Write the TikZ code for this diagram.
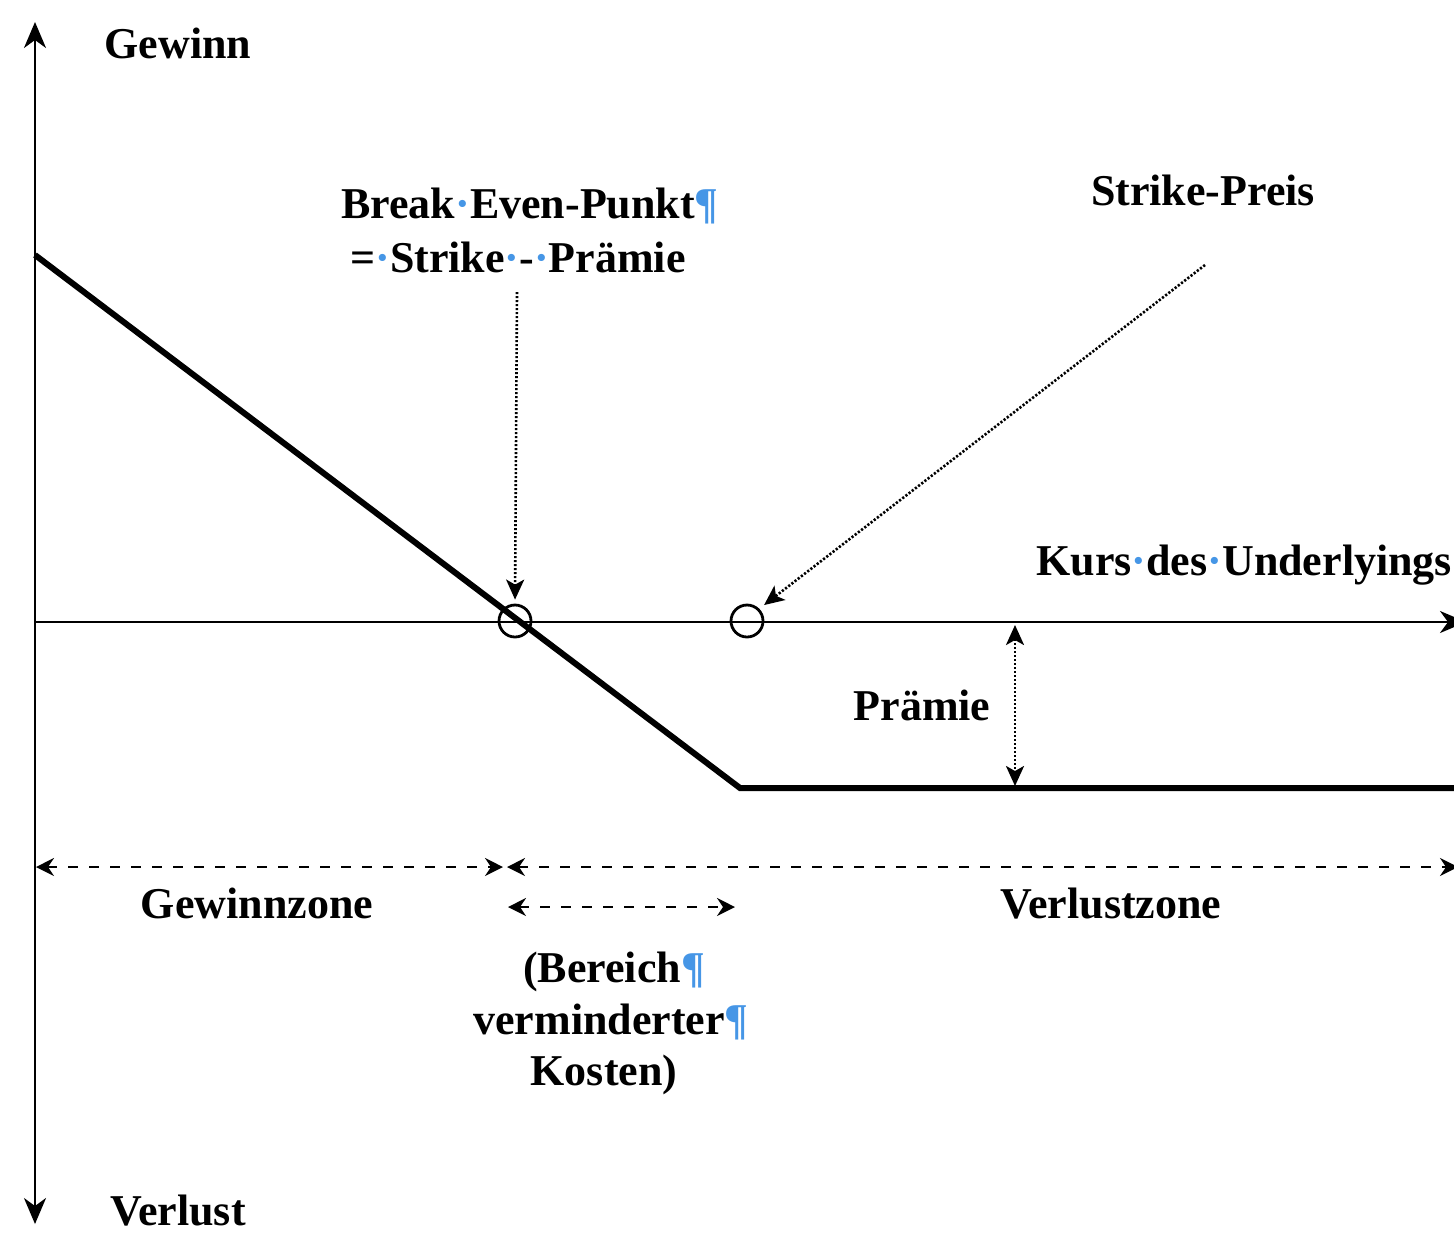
\documentclass[tikz,border=0pt]{standalone}
\usepackage{fontspec}
\setmainfont{Liberation Serif}
\usetikzlibrary{arrows.meta}
\definecolor{markblue}{RGB}{70,150,230}
\newcommand{\wsep}{\textcolor{markblue}{·}}
\newcommand{\pil}{\textcolor{markblue}{¶}}
\begin{document}
\begin{tikzpicture}[x=0.5pt,y=-0.5pt,
  lbl/.style={font=\bfseries\fontsize{22}{26}\selectfont, inner sep=0pt, anchor=base},
  axis/.style={line width=1.2pt, {Stealth[length=13pt,width=11pt,inset=4pt]}-{Stealth[length=13pt,width=11pt,inset=4pt]}},
  haxis/.style={line width=1.2pt, -{Stealth[length=13pt,width=11pt,inset=4pt]}},
  payoff/.style={line width=3pt, line join=miter},
  ring/.style={circle, draw, line width=1.4pt, minimum size=16pt, inner sep=0pt},
  dotarrow/.style={line width=1.3pt, dash pattern=on 1.1pt off 0.9pt, -{Stealth[length=10pt,width=9pt,inset=2.5pt]}},
  dotboth/.style={line width=1.3pt, dash pattern=on 1.1pt off 0.9pt, {Stealth[length=10pt,width=9pt,inset=2.5pt]}-{Stealth[length=10pt,width=9pt,inset=2.5pt]}},
  zone/.style={line width=1.3pt, dash pattern=on 5pt off 5.5pt, {Stealth[length=9pt,width=9pt,inset=3pt]}-{Stealth[length=9pt,width=9pt,inset=3pt]}}
]
\useasboundingbox (0,0) rectangle (1454,1233);

% axes
\coordinate (ytop) at (35,22);
\coordinate (ybot) at (35,1224);
\coordinate (xleft) at (35,622);
\coordinate (xright) at (1466,622);
\draw[axis] (ybot) -- (ytop);
\draw[haxis] (xleft) -- (xright);

% payoff of the long put
\coordinate (p0) at (35,255);
\coordinate (pk) at (740,788);
\coordinate (p1) at (1460,788);
\draw[payoff] (p0) -- (pk) -- (p1);

% break-even point and strike price
\node[ring] (be) at (515,621) {};
\node[ring] (sk) at (747,621) {};

% axis labels
\node[lbl] (gewinn) at (178,58) {Gewinn};
\node[lbl] (verlust) at (178,1225) {Verlust};
\node[lbl, anchor=base west] (kurs) at (1036,575) {Kurs\wsep des\wsep Underlyings};

% break-even label
\node[lbl] (be1) at (530,218) {Break\wsep Even-Punkt\pil};
\node[lbl] (be2) at (518,272) {=\wsep Strike\wsep -\wsep Prämie};
\coordinate (bestart) at (517,292);
\draw[dotarrow, shorten >=2pt] (bestart) -- (be.north);

% strike price label
\node[lbl] (strike) at (1203,205) {Strike-Preis};
\coordinate (skstart) at (1205,265);
\draw[dotarrow, shorten >=3pt] (skstart) -- (sk.north east);

% premium
\node[lbl] (praemie) at (922,720) {Prämie};
\coordinate (pr0) at (1015,625);
\coordinate (pr1) at (1015,786);
\draw[dotboth] (pr0) -- (pr1);

% zones
\coordinate (z0) at (36,867);
\coordinate (zm) at (505,867);
\coordinate (z1) at (1458,867);
\draw[zone] (z0) -- ([xshift=-1pt]zm);
\draw[zone] ([xshift=1pt]zm) -- (z1);
\node[lbl] (gz) at (257,918) {Gewinnzone};
\node[lbl] (vz) at (1111,918) {Verlustzone};

\coordinate (r0) at (508,907);
\coordinate (r1) at (735,907);
\draw[zone] (r0) -- (r1);
\node[lbl] (b1) at (614,982) {(Bereich\pil};
\node[lbl] (b2) at (611,1034) {verminderter\pil};
\node[lbl] (b3) at (604,1085) {Kosten)};
\end{tikzpicture}
\end{document}
